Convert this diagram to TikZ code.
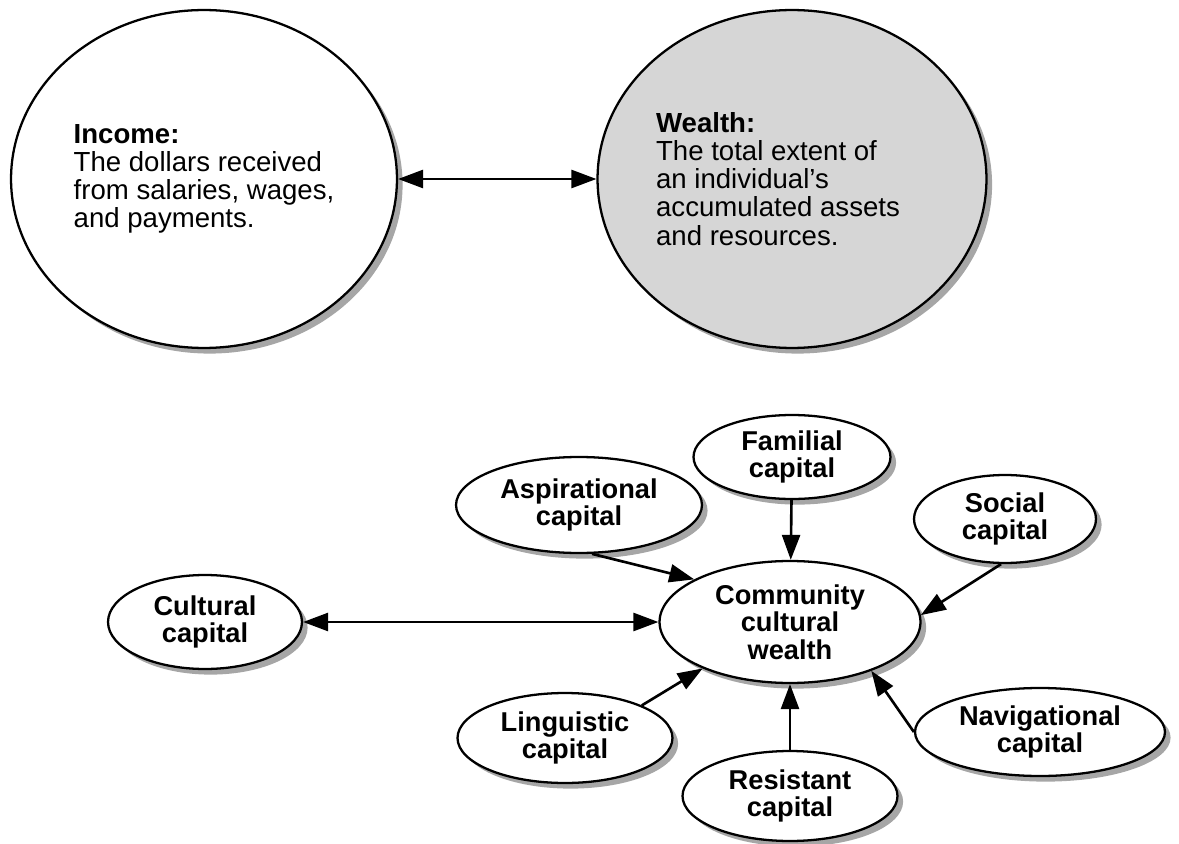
\documentclass[tikz,border=0pt]{standalone}
\usepackage{fontspec}
\setmainfont{Liberation Sans}
\usetikzlibrary{shapes.geometric,shadows,arrows.meta}

\begin{document}
\begin{tikzpicture}[x=0.02cm, y=-0.02cm, >={Triangle[length=0.5cm,width=0.36cm]},
                    line width=1.3pt,
                    main node/.style={ellipse,draw,fill=white,inner sep=0pt,align=center,
                      font=\bfseries\fontsize{15.5}{15.6}\selectfont,
                      drop shadow={shadow xshift=3.2pt,shadow yshift=-3.2pt,fill=black!35,opacity=1}},
                    big node/.style={main node,align=left,font=\fontsize{15.7}{16}\selectfont},
                    filled/.style={fill=black!16}]

  \useasboundingbox (0,0) rectangle (1179,844);

  \node[big node, minimum width=7.72cm, minimum height=6.76cm] (1) at (204,179)
    {\textbf{Income:}\\The dollars received\\from salaries, wages,\\and payments.};
  \node[big node, filled, minimum width=7.78cm, minimum height=6.76cm] (2) at (792,179)
    {\textbf{Wealth:}\\The total extent of\\an individual's\\accumulated assets\makebox[0.56cm]{}\\and resources.};

  \node[main node, minimum width=5.22cm, minimum height=2.44cm] (3) at (790,622) {Community\\cultural\\wealth};
  \node[main node, minimum width=3.94cm, minimum height=1.68cm] (4) at (792,457) {Familial\\capital};
  \node[main node, minimum width=4.92cm, minimum height=1.92cm] (5) at (579,505) {Aspirational\\capital};
  \node[main node, minimum width=3.64cm, minimum height=1.76cm] (6) at (1005,519) {Social\\capital};
  \node[main node, minimum width=3.88cm, minimum height=1.88cm] (7) at (205,622) {Cultural\\capital};
  \node[main node, minimum width=4.30cm, minimum height=1.80cm] (8) at (790,796) {Resistant\\capital};
  \node[main node, minimum width=4.30cm, minimum height=1.80cm] (9) at (565,738) {Linguistic\\capital};
  \node[main node, minimum width=5.00cm, minimum height=1.76cm] (10) at (1040,732) {Navigational\\capital};

  \path[<->][line width=1.5pt]
    (1) edge (2)
    (7) edge (3);

  \path[->][line width=1.5pt]
    (5.-75) edge (3.156)
    (4) edge (3)
    (6.-95) edge (3.3)
    (9.23) edge (3.-152)
    (8) edge (3)
    (10.west) edge (3.-31);
\end{tikzpicture}
\end{document}
